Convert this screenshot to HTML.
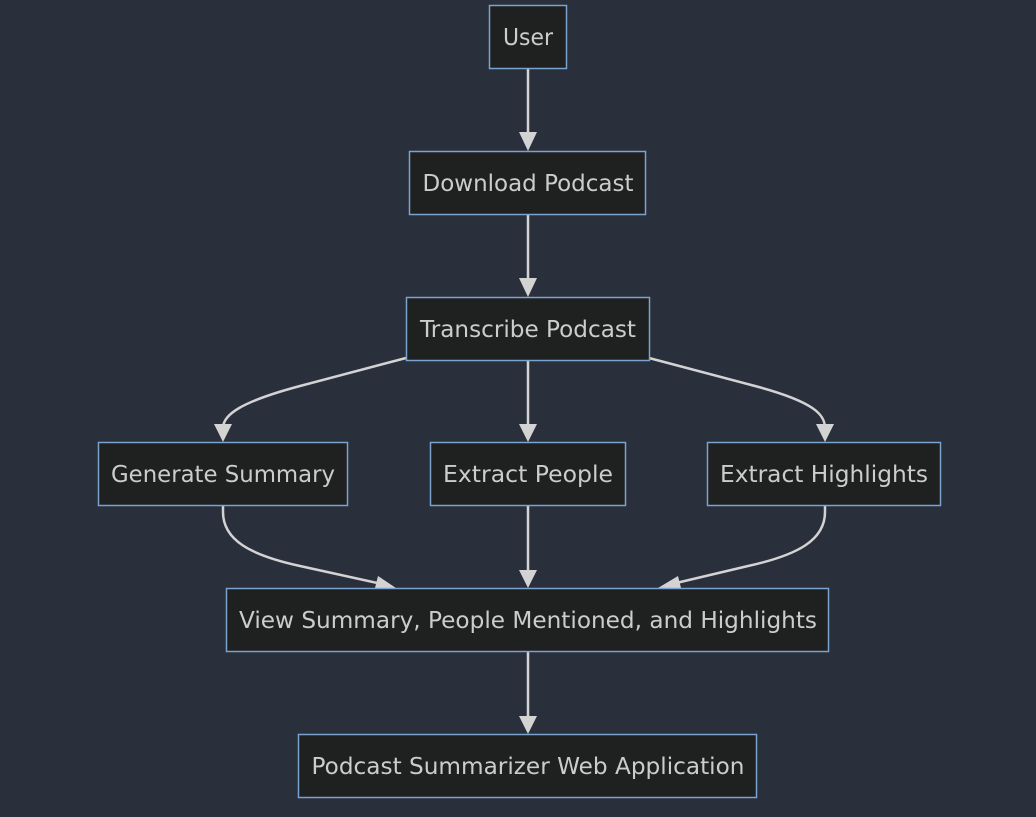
<!DOCTYPE html>
<html><head><meta charset="utf-8"><style>
html,body{margin:0;padding:0;background:#2a2f3c;}
svg{display:block}
text{font-family:"DejaVu Sans","Liberation Sans",sans-serif;font-size:23px;fill:#cccccc;text-anchor:middle;dominant-baseline:central}
rect{fill:#1f2020;stroke:#7aa3cf;stroke-width:1.5}
.e{fill:none;stroke:#d3d3d3;stroke-width:2.5}
.a{fill:#d3d3d3}
</style></head><body>
<svg width="1036" height="817" viewBox="0 0 1036 817">
<rect width="1036" height="817" style="fill:#2a2f3c;stroke:none"/>
<path class="e" d="M528,69 V134"/><polygon class="a" points="519,132 537,132 528,151"/>
<path class="e" d="M528,215 V280"/><polygon class="a" points="519,278 537,278 528,297"/>
<path class="e" d="M528,360 V426"/><polygon class="a" points="519,424 537,424 528,442"/>
<path class="e" d="M528,506 V572"/><polygon class="a" points="519,570 537,570 528,588"/>
<path class="e" d="M528,652 V718"/><polygon class="a" points="519,716 537,716 528,734"/>
<path class="e" d="M406,358 L300,386 C240,402 223,415 223,428"/><polygon class="a" points="214,424 232,424 223,442"/>
<path class="e" d="M649,358 L755,386 C815,402 825,415 825,428"/><polygon class="a" points="816,424 834,424 825,442"/>
<path class="e" d="M223,506 V512 C223,540 250,555 300,566 L382,584"/><polygon class="a" points="378,576 375,588 396,588"/>
<path class="e" d="M825,506 V512 C825,540 798,555 748,566 L672,584"/><polygon class="a" points="678,576 681,588 658,588"/>
<rect x="489.5" y="5.5" width="77" height="63"/><text x="528" y="38" textLength="50" lengthAdjust="spacingAndGlyphs">User</text>
<rect x="409.5" y="151.5" width="236" height="63"/><text x="528" y="184" textLength="211" lengthAdjust="spacingAndGlyphs">Download Podcast</text>
<rect x="406.5" y="297.5" width="243" height="63"/><text x="528" y="330" textLength="216" lengthAdjust="spacingAndGlyphs">Transcribe Podcast</text>
<rect x="98.5" y="442.5" width="249" height="63"/><text x="223" y="475" textLength="224" lengthAdjust="spacingAndGlyphs">Generate Summary</text>
<rect x="430.5" y="442.5" width="195" height="63"/><text x="528" y="475" textLength="170" lengthAdjust="spacingAndGlyphs">Extract People</text>
<rect x="707.5" y="442.5" width="233" height="63"/><text x="824" y="475" textLength="208" lengthAdjust="spacingAndGlyphs">Extract Highlights</text>
<rect x="226.5" y="588.5" width="602" height="63"/><text x="528" y="621" textLength="578" lengthAdjust="spacingAndGlyphs">View Summary, People Mentioned, and Highlights</text>
<rect x="298.5" y="734.5" width="458" height="63"/><text x="528" y="767" textLength="433" lengthAdjust="spacingAndGlyphs">Podcast Summarizer Web Application</text>
</svg>
</body></html>
